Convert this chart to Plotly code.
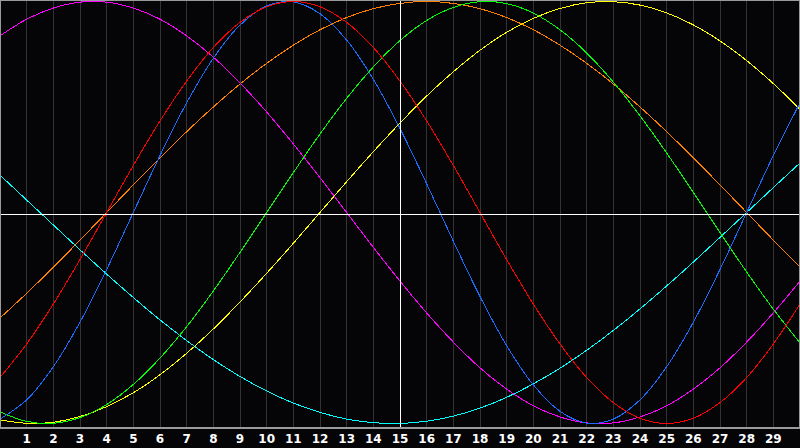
import plotly.graph_objects as go

days = list(range(31))
tick_days = list(range(1, 30))
tick_labels = [str(d) for d in tick_days]

blue = [-0.979,-0.888,-0.731,-0.52,-0.27,0.0,0.27,0.52,0.731,0.888,0.979,0.998,0.942,0.817,0.631,0.398,0.136,-0.136,-0.398,-0.631,-0.817,-0.942,-0.998,-0.979,-0.888,-0.731,-0.52,-0.27,0.0,0.27,0.52]
red = [-0.782,-0.623,-0.434,-0.223,0.0,0.223,0.434,0.623,0.782,0.901,0.975,1.0,0.975,0.901,0.782,0.623,0.434,0.223,0.0,-0.223,-0.434,-0.623,-0.782,-0.901,-0.975,-1.0,-0.975,-0.901,-0.782,-0.623,-0.434]
green = [-0.945,-0.990,-0.999,-0.972,-0.910,-0.815,-0.690,-0.541,-0.372,-0.189,0.0,0.189,0.372,0.541,0.690,0.815,0.910,0.972,0.999,0.990,0.945,0.866,0.756,0.618,0.458,0.282,0.095,-0.095,-0.282,-0.458,-0.618]
magenta = [0.837,0.916,0.969,0.997,0.997,0.969,0.916,0.837,0.736,0.614,0.476,0.325,0.165,0.0,-0.165,-0.325,-0.476,-0.614,-0.736,-0.837,-0.916,-0.969,-0.997,-0.997,-0.969,-0.916,-0.837,-0.736,-0.614,-0.476,-0.325]
yellow = [-0.983,-0.999,-0.994,-0.967,-0.92,-0.854,-0.769,-0.667,-0.552,-0.424,-0.288,-0.146,0.0,0.146,0.288,0.424,0.552,0.667,0.769,0.854,0.92,0.967,0.994,0.999,0.983,0.946,0.889,0.813,0.72,0.611,0.489]
orange = [-0.5,-0.383,-0.259,-0.131,0.0,0.131,0.259,0.383,0.5,0.609,0.707,0.793,0.866,0.924,0.966,0.991,1.0,0.991,0.966,0.924,0.866,0.793,0.707,0.609,0.5,0.383,0.259,0.131,0.0,-0.131,-0.259]
cyan = [0.177,0.059,-0.059,-0.177,-0.292,-0.403,-0.509,-0.607,-0.697,-0.777,-0.846,-0.903,-0.947,-0.979,-0.996,-1.0,-0.989,-0.965,-0.927,-0.876,-0.812,-0.738,-0.653,-0.559,-0.457,-0.348,-0.235,-0.118,0.0,0.118,0.235]

series = [
    ("cyan", cyan, "#00ffff"),
    ("orange", orange, "#ff8000"),
    ("yellow", yellow, "#ffff00"),
    ("magenta", magenta, "#ff00ff"),
    ("green", green, "#00ff00"),
    ("blue", blue, "#1a6cff"),
    ("red", red, "#ff0000"),
]

fig = go.Figure()
for name, vals, col in series:
    fig.add_trace(go.Scatter(x=days, y=vals, mode="lines", name=name,
                             line=dict(color=col, width=1, shape="spline"),
                             hoverinfo="skip"))

bg = "#050508"
fig.update_layout(
    width=800, height=448,
    margin=dict(l=0, r=0, t=0, b=0),
    paper_bgcolor=bg, plot_bgcolor=bg,
    showlegend=False,
    xaxis=dict(range=[0, 30], tickvals=tick_days, ticktext=tick_labels,
               showgrid=True, gridcolor="#333333", gridwidth=1,
               zeroline=False, showline=False, ticks="",
               ticklabelstandoff=2,
               tickfont=dict(color="white", size=12, family="DejaVu Sans", weight="bold"),
               fixedrange=True),
    yaxis=dict(range=[-1.0213, 1.0071], domain=[20/448, 1],
               showgrid=False, zeroline=False, showticklabels=False, ticks="",
               fixedrange=True),
    shapes=[
        dict(type="line", xref="x", yref="paper", x0=15.01875, x1=15.01875, y0=20/448, y1=1,
             line=dict(color="white", width=1), layer="above"),
        dict(type="line", xref="paper", yref="y", x0=0, x1=1, y0=-0.0095, y1=-0.0095,
             line=dict(color="white", width=1), layer="above"),
        dict(type="rect", xref="paper", yref="paper", x0=0, x1=1, y0=20/448, y1=1,
             line=dict(color="#9a9a9a", width=2), layer="above"),
    ],
)

fig.write_html("out.html", config={"displayModeBar": False})

# remove the browser's default page margin and draw lines without anti-aliasing, like the original
with open("out.html", encoding="utf-8") as f:
    html = f.read()
css = ("<style>html,body{margin:0;padding:0;overflow:hidden;background:#050508;}"
       ".js-line{shape-rendering:crispEdges;}"
       ".shapelayer path{shape-rendering:crispEdges;}</style>")
html = html.replace("<head>", "<head>" + css, 1)
with open("out.html", "w", encoding="utf-8") as f:
    f.write(html)
